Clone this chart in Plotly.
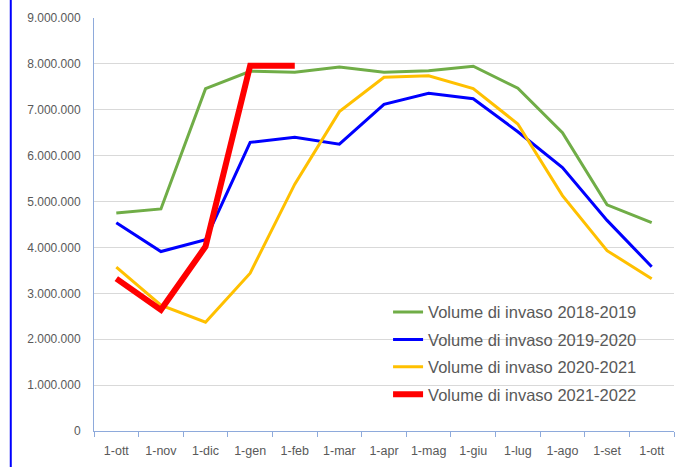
import plotly.graph_objects as go

categories = ["1-ott", "1-nov", "1-dic", "1-gen", "1-feb", "1-mar", "1-apr",
              "1-mag", "1-giu", "1-lug", "1-ago", "1-set", "1-ott"]

v_2018_2019 = [4750000, 4840000, 7460000, 7840000, 7820000, 7930000, 7820000,
               7850000, 7950000, 7470000, 6500000, 4930000, 4540000]
v_2019_2020 = [4540000, 3910000, 4170000, 6290000, 6400000, 6250000, 7120000,
               7360000, 7240000, 6520000, 5740000, 4590000, 3580000]
v_2020_2021 = [3570000, 2740000, 2370000, 3440000, 5380000, 6960000, 7710000,
               7740000, 7460000, 6690000, 5130000, 3930000, 3320000]
v_2021_2022 = [3320000, 2640000, 4020000, 7960000, 7960000]

series = [
    ("Volume di invaso 2018-2019", v_2018_2019, "#70ad47", 3),
    ("Volume di invaso 2019-2020", v_2019_2020, "#0000ff", 3),
    ("Volume di invaso 2020-2021", v_2020_2021, "#ffc000", 3),
    ("Volume di invaso 2021-2022", v_2021_2022, "#ff0000", 6),
]

xpos = list(range(len(categories)))

fig = go.Figure()
for i, (name, vals, color, w) in enumerate(series):
    fig.add_trace(go.Scatter(
        x=xpos[:len(vals)], y=vals, mode="lines", name=name,
        line=dict(color=color, width=w), legendgroup=f"g{i}",
    ))

axis_col = "#8eaadb"
fig.update_layout(
    width=686, height=467,
    margin=dict(l=94, r=12, t=18, b=36),
    paper_bgcolor="white", plot_bgcolor="white",
    separators=",.",
    font=dict(family="Liberation Sans, Arial, sans-serif", color="#595959", size=12),
    showlegend=True,
    legend=dict(x=0.507, y=0.33, xanchor="left", yanchor="top",
                font=dict(size=16.5, color="#595959"),
                bgcolor="rgba(0,0,0,0)", tracegroupgap=3, itemwidth=30),
    xaxis=dict(
        range=[-0.5, len(categories) - 0.5], tickvals=xpos, ticktext=categories,
        showgrid=False, zeroline=False, showline=True, linecolor=axis_col, linewidth=1,
        ticks="", ticklabelstandoff=8, fixedrange=True, automargin=False,
        tickfont=dict(size=12.5),
        minor=dict(tickvals=[i - 0.5 for i in range(len(categories) + 1)],
                   ticks="outside", ticklen=5, tickcolor=axis_col, showgrid=False),
    ),
    yaxis=dict(
        range=[0, 9000000], dtick=1000000, tickformat=",d",
        showgrid=True, gridcolor="#d9d9d9", gridwidth=1, zeroline=False,
        showline=True, linecolor=axis_col, linewidth=1, ticks="",
        ticklabelstandoff=10, automargin=False,
    ),
    shapes=[dict(type="line", xref="paper", yref="paper",
                 x0=-0.1435, x1=-0.1435, y0=-0.1, y1=1.06,
                 line=dict(color="#0000ff", width=2))],
)

fig.write_html("out.html", config={"displayModeBar": False},
               post_script="document.body.style.margin='0';")
